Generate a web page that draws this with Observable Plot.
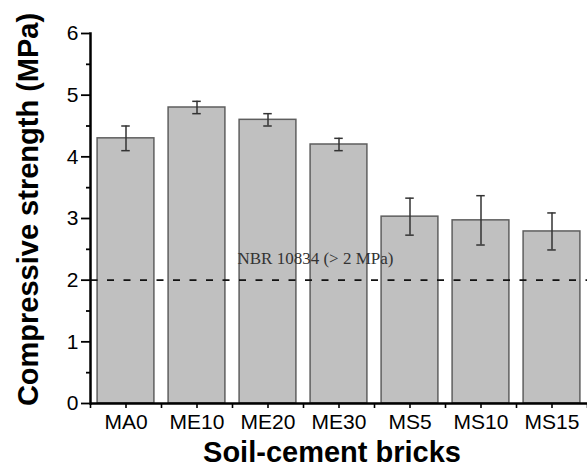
<!DOCTYPE html>
<html><head><meta charset="utf-8">
<script src="https://cdn.jsdelivr.net/npm/d3@7"></script>
<script src="https://cdn.jsdelivr.net/npm/@observablehq/plot@0.6"></script>
<style>body{margin:0;background:#fff}</style>
</head><body><div id="chart"></div>
<script>
const categories = ["MA0", "ME10", "ME20", "ME30", "MS5", "MS10", "MS15"];
const strength = [4.3, 4.8, 4.6, 4.2, 3.03, 2.97, 2.79];
const errors = [0.2, 0.1, 0.1, 0.1, 0.3, 0.4, 0.3];
const threshold = 2;
const thresholdLabel = "NBR 10834 (> 2 MPa)";
const yTicks = [0, 1, 2, 3, 4, 5, 6];
const yMinorTicks = [0.5, 1.5, 2.5, 3.5, 4.5, 5.5];
const xTitle = "Soil-cement bricks";
const yTitle = "Compressive strength (MPa)";

const data = categories.map((c, i) => ({c, i, v: strength[i], e: errors[i]}));
const xCenters = d3.range(categories.length);
const xBoundaries = d3.range(-0.5, categories.length, 1);

const chart = Plot.plot({
  width: 587, height: 466,
  marginLeft: 90, marginRight: 0, marginTop: 33, marginBottom: 63,
  style: {fontFamily: "'Liberation Sans', Arial, sans-serif", color: "#000", background: "#fff"},
  x: {domain: [-0.5, categories.length - 0.5]},
  y: {domain: [0, 6]},
  marks: [
    Plot.rectY(data, {x1: d => d.i - 0.4, x2: d => d.i + 0.4, y1: 0, y2: "v", fill: "#c0c0c0", stroke: "#5e5e5e", strokeWidth: 1.5}),
    Plot.ruleY([threshold], {stroke: "#111", strokeWidth: 1.6, strokeDasharray: "7,9.5", strokeDashoffset: 16}),
    Plot.ruleX(data, {x: "i", y1: d => d.v - d.e, y2: d => d.v + d.e, stroke: "#333", strokeWidth: 1.5}),
    Plot.ruleY(data, {x1: d => d.i - 0.06, x2: d => d.i + 0.06, y: d => d.v + d.e, stroke: "#333", strokeWidth: 1.5}),
    Plot.ruleY(data, {x1: d => d.i - 0.06, x2: d => d.i + 0.06, y: d => d.v - d.e, stroke: "#333", strokeWidth: 1.5}),
    Plot.text([thresholdLabel], {x: 1.57, y: threshold, dy: -16, textAnchor: "start", lineAnchor: "bottom", fontFamily: "'Liberation Serif', 'Times New Roman', serif", fontSize: 17, fill: "#333"}),
    Plot.axisY({ticks: yTicks, tickSize: 9, tickPadding: 3, fontSize: 21, strokeWidth: 1.8, label: null, tickFormat: d => String(d)}),
    Plot.axisY({ticks: yMinorTicks, tickSize: 4, tickFormat: () => "", strokeWidth: 1.8, label: null}),
    Plot.axisX({ticks: xCenters, tickSize: 5, tickPadding: 6, fontSize: 21, strokeWidth: 1.6, label: null,
      tickFormat: t => categories[t]}),
    Plot.axisX({ticks: xBoundaries, tickSize: 5, tickFormat: () => "", strokeWidth: 1.6, label: null}),
    Plot.ruleY([0], {stroke: "#000", strokeWidth: 2.5}),
    Plot.frame({anchor: "left", stroke: "#000", strokeWidth: 2.5}),
    Plot.text([yTitle], {frameAnchor: "left", textAnchor: "middle", rotate: -90, dx: -62, dy: -9, fontSize: 29, fontWeight: "bold", fill: "#000"}),
    Plot.text([xTitle], {frameAnchor: "bottom", dx: -7, dy: 58, fontSize: 29, fontWeight: "bold", fill: "#000"})
  ]
});
document.getElementById("chart").appendChild(chart);
</script>
</body></html>
